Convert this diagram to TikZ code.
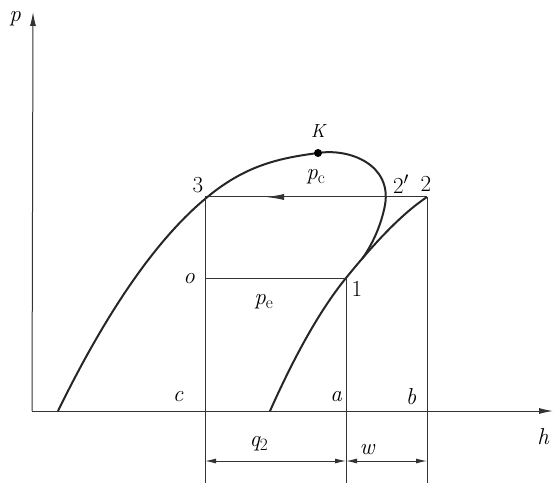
\documentclass[tikz,border=0pt]{standalone}
\usetikzlibrary{arrows.meta}
\begin{document}
\begin{tikzpicture}[x=1pt,y=-1pt,
  thin line/.style={line width=1pt,black!80},
  curve/.style={line width=2pt,black!85},
  lbl/.style={font=\fontsize{23}{25}\selectfont\itshape,inner sep=0pt},
  num/.style={font=\fontsize{23}{25}\selectfont,inner sep=0pt},
  dim/.style={line width=1pt,black!80,{Latex[length=11pt,width=5pt]}-{Latex[length=11pt,width=5pt]}}]
\useasboundingbox (0,0) rectangle (553,486);
% named points
\coordinate (O) at (32,411);
\coordinate (Ptop) at (33,12);
\coordinate (Hend) at (553,411);
\coordinate (K) at (318,153);
\coordinate (P3) at (205,197);
\coordinate (P2) at (427,197);
\coordinate (P1) at (346,278);
\coordinate (Po) at (205,278);
\coordinate (Cb) at (205,483);
\coordinate (Ab) at (346,483);
\coordinate (Bb) at (427,483);
\coordinate (Dc) at (205,461);
\coordinate (Da) at (346,461);
\coordinate (Db) at (427,461);
% axes
\draw[thin line,-{Latex[length=14pt,width=6pt]}] (O) -- (Ptop);
\draw[thin line,-{Latex[length=14pt,width=6pt]}] (O) -- (Hend);
% saturation curves
\draw[curve] (58,411) .. controls (100,325) and (150,245) .. (205,199)
  .. controls (245,165) and (280,158) .. (K)
  .. controls (350,148) and (392,165) .. (385,205)
  .. controls (381,226) and (372,245) .. (362,259);
\draw[curve] (270,411) .. controls (295,355) and (320,310) .. (P1)
  .. controls (372,246) and (400,215) .. (P2);
\fill[black] (K) circle (4pt);
% cycle lines
\draw[thin line] (P2) -- (P3);
\draw[thin line,-{Latex[length=18pt,width=6pt]}] (P2) -- (266,197);
\draw[thin line] (Po) -- (P1);
\draw[thin line] (P3) -- (Cb);
\draw[thin line] (P1) -- (Ab);
\draw[thin line] (P2) -- (Bb);
% dimension lines
\draw[dim] (Dc) -- (Da);
\draw[dim] (Da) -- (Db);
% labels
\node[lbl] (lp) at (15,19) {p};
\node[lbl] (lh) at (543,437) {h};
\node[lbl,font=\fontsize{19}{21}\selectfont\itshape] (lK) at (318,131) {K};
\node[lbl] (lpc) at (316,177) {p$_{\mathrm{c}}$};
\node[num] (l3) at (198,185) {3};
\node[num] (l2p) at (401,184) {2$'$};
\node[num] (l2) at (426,184) {2};
\node[lbl] (lo) at (189,279) {o};
\node[num] (l1) at (357,289) {1};
\node[lbl] (lpe) at (264,302) {p$_{\mathrm{e}}$};
\node[lbl] (lc) at (178,397) {c};
\node[lbl] (la) at (336,397) {a};
\node[lbl] (lb) at (411,397) {b};
\node[lbl] (lq) at (259,444) {q$_{2}$};
\node[lbl] (lw) at (367,450) {w};
\end{tikzpicture}
\end{document}
